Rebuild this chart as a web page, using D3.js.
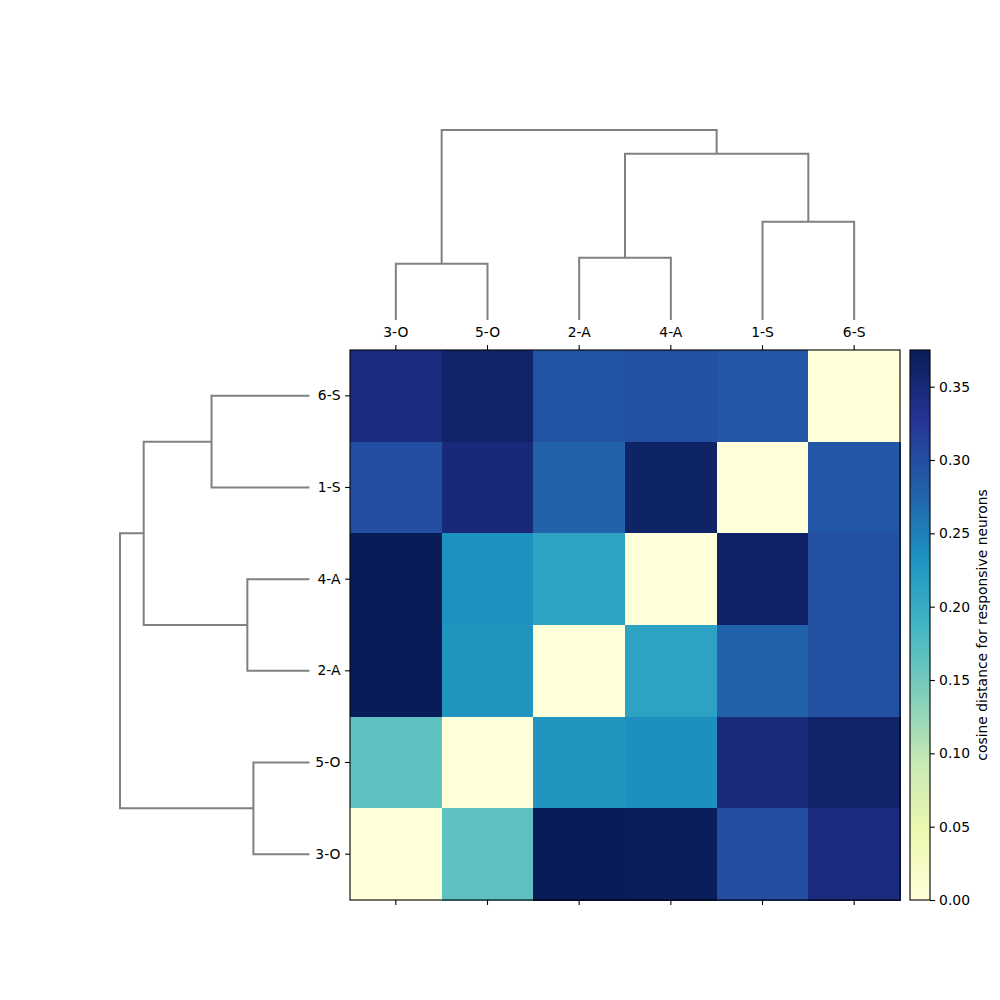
<!DOCTYPE html>
<html>
<head>
<meta charset="utf-8">
<script src="https://cdn.jsdelivr.net/npm/d3@7"></script>
<style>
  html, body { margin: 0; padding: 0; background: #fff; }
  svg { display: block; }
  text { font-family: "DejaVu Sans", sans-serif; fill: #000; }
</style>
</head>
<body>
<script>
// ---------------- data ----------------
const rowLabels = ["6-S", "1-S", "4-A", "2-A", "5-O", "3-O"];
const colLabels = ["3-O", "5-O", "2-A", "4-A", "1-S", "6-S"];
// cosine distance values, rows top->bottom, columns left->right
const row6S = [0.344, 0.361, 0.293, 0.297, 0.290, 0.000];
const row1S = [0.300, 0.350, 0.278, 0.363, 0.000, 0.290];
const row4A = [0.375, 0.234, 0.2125, 0.000, 0.362, 0.297];
const row2A = [0.375, 0.229, 0.000, 0.2125, 0.278, 0.297];
const row5O = [0.1655, 0.000, 0.229, 0.235, 0.348, 0.361];
const row3O = [0.000, 0.1655, 0.375, 0.373, 0.300, 0.344];
const matrix = [row6S, row1S, row4A, row2A, row5O, row3O];

// hierarchical linkage (child a, child b, merge height, node id)
const linkage = [
  ["3-O", "5-O", 0.296, "n1"],
  ["2-A", "4-A", 0.328, "n2"],
  ["1-S", "6-S", 0.517, "n3"],
  ["n2", "n3", 0.875, "n4"],
  ["n1", "n4", 1.000, "n5"]
];

const colorbarTicks = [0, 0.05, 0.10, 0.15, 0.20, 0.25, 0.30, 0.35];
const vmin = 0, vmax = 0.375;
const colorbarLabel = "cosine distance for responsive neurons";
// matplotlib YlGnBu anchor colours
const ylgnbu = ["#ffffd9", "#edf8b1", "#c7e9b4", "#7fcdbb", "#41b6c4", "#1d91c0", "#225ea8", "#253494", "#081d58"];

// ---------------- layout ----------------
const W = 1000, H = 1000;
const hm = { x0: 350, x1: 900, y0: 350, y1: 900 };
const cb = { x0: 910, x1: 930 };
const FS = 13.9;

const svg = d3.select("body").append("svg").attr("width", W).attr("height", H);

const x = d3.scaleBand().domain(colLabels).range([hm.x0, hm.x1]);
const y = d3.scaleBand().domain(rowLabels).range([hm.y0, hm.y1]);

const color = d3.scaleLinear()
  .domain(ylgnbu.map((_, i) => vmin + (vmax - vmin) * i / (ylgnbu.length - 1)))
  .range(ylgnbu)
  .interpolate(d3.interpolateRgb)
  .clamp(true);

// heatmap cells
const cells = [];
matrix.forEach((row, i) => row.forEach((v, j) => cells.push({ r: rowLabels[i], c: colLabels[j], v })));
svg.append("g").selectAll("rect").data(cells).join("rect")
  .attr("x", d => x(d.c))
  .attr("y", d => y(d.r))
  .attr("width", x.bandwidth() + 0.5)
  .attr("height", y.bandwidth() + 0.5)
  .attr("fill", d => color(d.v))
  .attr("shape-rendering", "crispEdges");

svg.append("rect")
  .attr("x", hm.x0).attr("y", hm.y0)
  .attr("width", hm.x1 - hm.x0).attr("height", hm.y1 - hm.y0)
  .attr("fill", "none").attr("stroke", "#000").attr("stroke-width", 1.1);

// axes
const tickStyle = g => {
  g.select(".domain").remove();
  g.selectAll(".tick line").attr("stroke", "#000").attr("stroke-width", 1.1);
  g.selectAll(".tick text").attr("font-size", FS).attr("font-family", "DejaVu Sans, sans-serif").attr("fill", "#000");
};
svg.append("g").attr("transform", `translate(0,${hm.y0})`)
  .call(d3.axisTop(x).tickSize(4.9).tickPadding(8)).call(tickStyle);
svg.append("g").attr("transform", `translate(0,${hm.y1})`)
  .call(d3.axisBottom(x).tickSize(4.9).tickFormat("")).call(tickStyle);
svg.append("g").attr("transform", `translate(${hm.x0},0)`)
  .call(d3.axisLeft(y).tickSize(4.9).tickPadding(4.6)).call(tickStyle);

// ---------------- dendrograms ----------------
function buildPositions(posOf) {
  const pos = {}, h = {};
  rowLabels.forEach(l => { pos[l] = posOf(l); h[l] = 0; });
  const segs = [];
  linkage.forEach(([a, b, ht, id]) => {
    pos[id] = (pos[a] + pos[b]) / 2;
    h[id] = ht;
    segs.push([[pos[a], h[a]], [pos[a], ht], [pos[b], ht], [pos[b], h[b]]]);
  });
  return segs;
}
const maxH = d3.max(linkage, d => d[2]);

// top dendrogram
const topH = d3.scaleLinear().domain([0, maxH]).range([320, 130]);
const topSegs = buildPositions(l => x(l) + x.bandwidth() / 2);
const line = d3.line();
svg.append("g").selectAll("path").data(topSegs).join("path")
  .attr("d", s => line(s.map(([p, hh]) => [p, topH(hh)])))
  .attr("fill", "none").attr("stroke", "#808080").attr("stroke-width", 2);

// left dendrogram
const leftH = d3.scaleLinear().domain([0, maxH]).range([309.5, 120]);
const leftSegs = buildPositions(l => y(l) + y.bandwidth() / 2);
svg.append("g").selectAll("path").data(leftSegs).join("path")
  .attr("d", s => line(s.map(([p, hh]) => [leftH(hh), p])))
  .attr("fill", "none").attr("stroke", "#808080").attr("stroke-width", 2);

// ---------------- colorbar ----------------
const defs = svg.append("defs");
const grad = defs.append("linearGradient").attr("id", "cbgrad")
  .attr("x1", "0").attr("y1", "1").attr("x2", "0").attr("y2", "0");
grad.selectAll("stop").data(ylgnbu).join("stop")
  .attr("offset", (d, i) => i / (ylgnbu.length - 1))
  .attr("stop-color", d => d);

const cbY = d3.scaleLinear().domain([vmin, vmax]).range([hm.y1, hm.y0]);
svg.append("rect")
  .attr("x", cb.x0).attr("y", hm.y0)
  .attr("width", cb.x1 - cb.x0).attr("height", hm.y1 - hm.y0)
  .attr("fill", "url(#cbgrad)")
  .attr("stroke", "#000").attr("stroke-width", 1.1);

svg.append("g").attr("transform", `translate(${cb.x1},0)`)
  .call(d3.axisRight(cbY).tickValues(colorbarTicks).tickFormat(d3.format(".2f")).tickSize(4.9).tickPadding(4.2))
  .call(tickStyle);

svg.append("text")
  .attr("transform", `translate(986.5,${(hm.y0 + hm.y1) / 2}) rotate(-90)`)
  .attr("text-anchor", "middle")
  .attr("font-size", FS)
  .text(colorbarLabel);
</script>
</body>
</html>
